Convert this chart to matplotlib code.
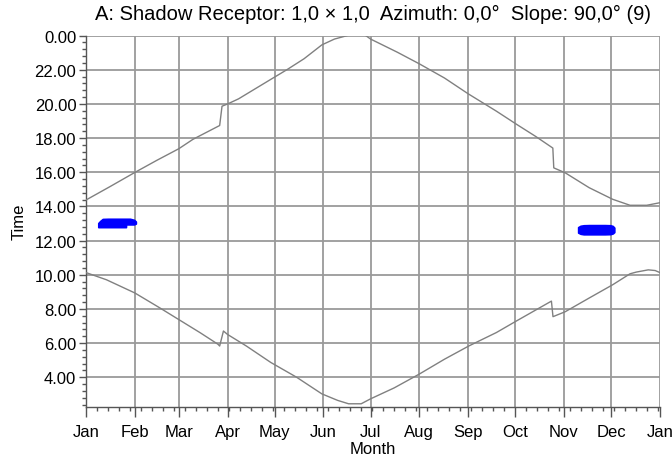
import matplotlib
matplotlib.use("Agg")
import matplotlib.pyplot as plt
from matplotlib.ticker import FixedLocator, FuncFormatter, MultipleLocator

plt.rcParams['font.family'] = ['Liberation Sans', 'DejaVu Sans']

# month labels / positions (day of year at month start)
months = ["Jan", "Feb", "Mar", "Apr", "May", "Jun", "Jul", "Aug", "Sep", "Oct", "Nov", "Dec", "Jan"]
month_days = [0, 31, 59, 90, 120, 151, 181, 212, 243, 273, 304, 334, 365]

# upper curve (sunset-side limit), day of year -> hour
upper_days = [0, 15, 31, 45, 59, 68, 85, 86.5, 90, 97, 117.5, 128, 138.7, 150, 158,
              166, 172, 178, 181, 198, 212, 228, 243, 261, 274, 286, 296.9, 297.5,
              304.8, 320, 335, 346, 356.6, 365]
upper_hours = [14.38, 15.15, 15.99, 16.7, 17.38, 17.93, 18.74, 19.87, 20.0, 20.3, 21.44,
               22.02, 22.65, 23.46, 23.8, 24.0, 24.2, 24.0, 23.8, 23.03, 22.35, 21.52,
               20.6, 19.58, 18.8, 18.1, 17.42, 16.26, 15.97, 15.1, 14.42, 14.07, 14.07, 14.22]

# lower curve (sunrise-side limit)
lower_days = [0, 13, 31, 47, 59, 72.6, 84, 85, 87.4, 90, 102, 117.5, 134, 150, 160,
              167, 175, 181, 196, 212, 228, 243.6, 261, 273.6, 296, 297, 304.8, 320,
              335, 346, 350, 357.6, 362, 365]
lower_hours = [10.13, 9.71, 8.94, 8.06, 7.38, 6.61, 5.93, 5.83, 6.71, 6.51, 5.83, 4.87,
               4.0, 3.03, 2.65, 2.45, 2.45, 2.74, 3.38, 4.19, 5.06, 5.84, 6.62, 7.29,
               8.46, 7.55, 7.84, 8.64, 9.42, 10.06, 10.16, 10.29, 10.25, 10.13]

# shadow periods (blue)
jan_days = [7.8, 9, 10.6, 14, 18, 22, 25.4, 25.5, 28, 30.5, 31.7]
jan_start = [12.79, 12.79, 12.79, 12.79, 12.79, 12.79, 12.79, 12.95, 12.95, 12.95, 13.0]
jan_end = [13.03, 13.15, 13.27, 13.28, 13.28, 13.28, 13.28, 13.28, 13.28, 13.22, 13.12]

dec_days = [313, 314.5, 316.5, 320, 325, 330, 333.5, 335, 336]
dec_start = [12.47, 12.40, 12.37, 12.37, 12.37, 12.37, 12.38, 12.42, 12.50]
dec_end = [12.79, 12.87, 12.90, 12.91, 12.91, 12.91, 12.90, 12.86, 12.76]

fig = plt.figure(figsize=(6.72, 4.64), dpi=100)
ax = fig.add_axes([0.128, 0.121, 0.854, 0.800])

ax.plot(upper_days, upper_hours, color='#808080', lw=1.0, zorder=3)
ax.plot(lower_days, lower_hours, color='#808080', lw=1.0, zorder=3)
ax.fill_between(jan_days, jan_start, jan_end, color='#0000ff', lw=1.2, edgecolor='#0000ff', zorder=4)
ax.fill_between(dec_days, dec_start, dec_end, color='#0000ff', lw=1.2, edgecolor='#0000ff', zorder=4)

ax.set_xlim(0, 365)
ax.set_ylim(2.27, 24)

ax.xaxis.set_major_locator(FixedLocator(month_days))
ax.set_xticklabels(months)
ax.xaxis.set_minor_locator(MultipleLocator(7))
ax.yaxis.set_major_locator(FixedLocator(list(range(4, 25, 2))))
ax.yaxis.set_major_formatter(FuncFormatter(lambda v, p: f"{v % 24:.2f}"))
ax.yaxis.set_minor_locator(MultipleLocator(0.4))

ax.grid(True, which='major', color='#9a9a9a', lw=1.3)
ax.set_axisbelow(True)
for s in ['top', 'right']:
    ax.spines[s].set_visible(False)
for s in ['left', 'bottom']:
    ax.spines[s].set_color('#555555')
    ax.spines[s].set_linewidth(1.0)

ax.tick_params(which='major', length=5, width=1, color='#555555', labelsize=12, pad=2)
ax.tick_params(which='minor', length=3, width=1, color='#555555')
ax.tick_params(axis='x', which='major', length=7, pad=5)

ax.set_xlabel("Month", fontsize=12, labelpad=2)
ax.set_ylabel("Time", fontsize=12, labelpad=6)
ax.set_title("A: Shadow Receptor: 1,0 \u00d7 1,0  Azimuth: 0,0\u00b0  Slope: 90,0\u00b0 (9)",
             fontsize=14.5, pad=12)

fig.savefig("out.png", dpi=100)
